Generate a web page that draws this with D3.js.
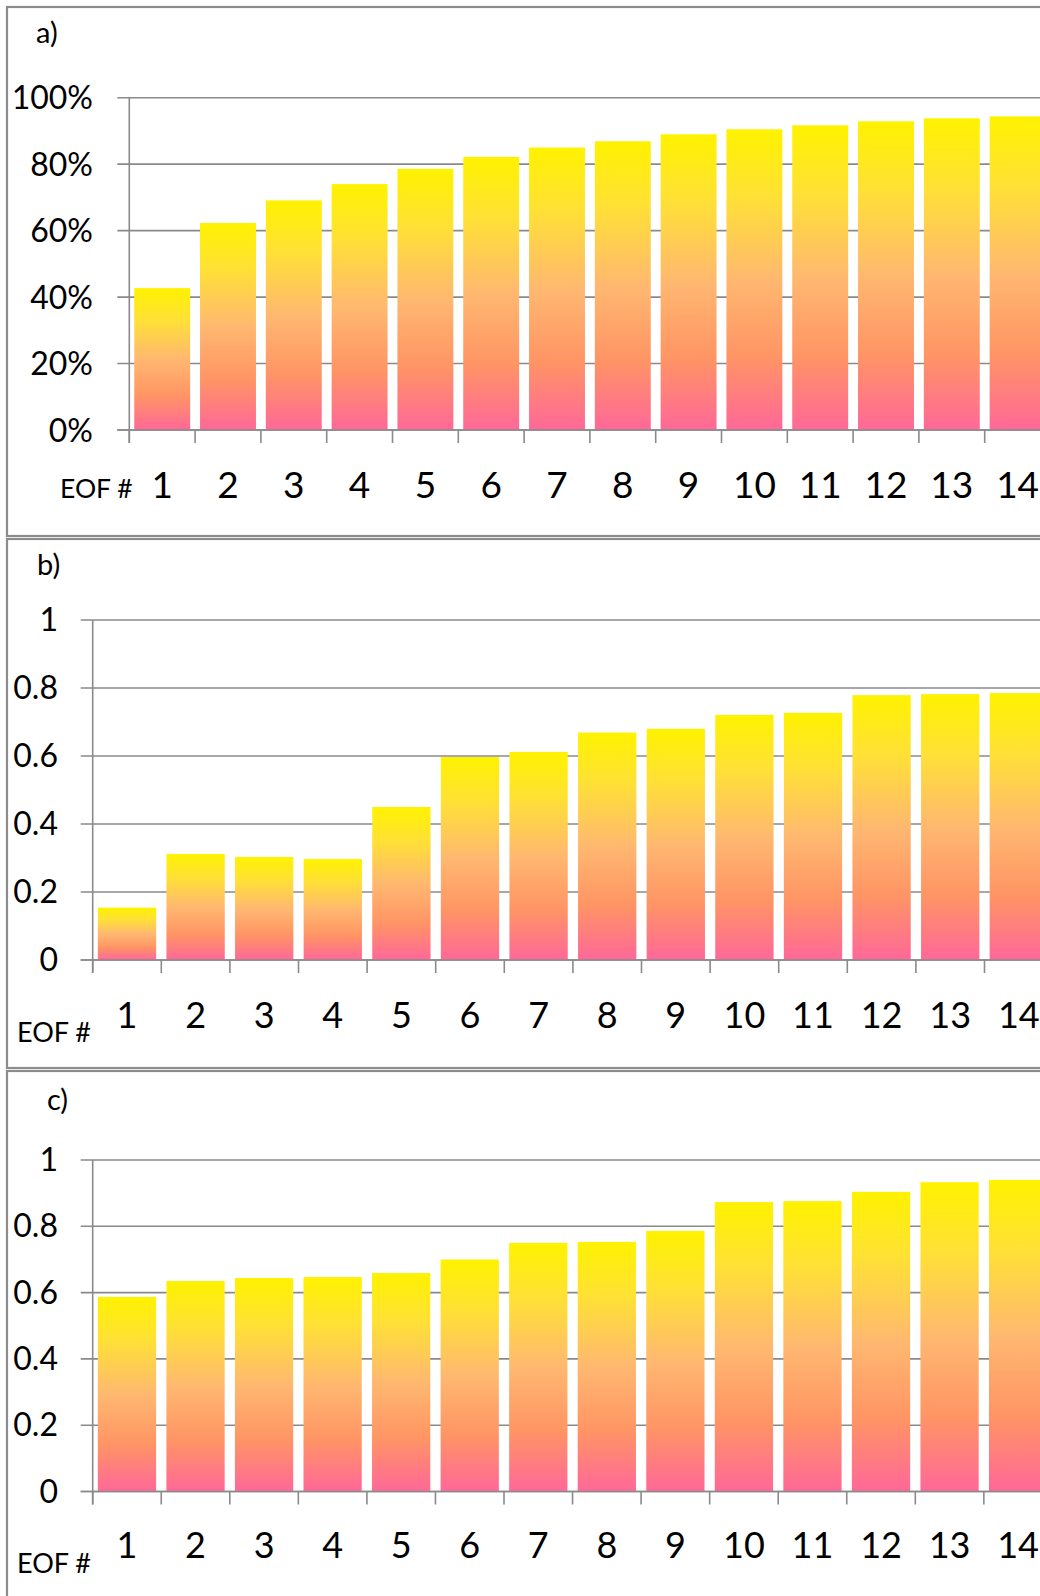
<!DOCTYPE html>
<html>
<head>
<meta charset="utf-8">
<script src="https://cdn.jsdelivr.net/npm/d3@7"></script>
<style>
  html, body { margin: 0; padding: 0; background: #fff; }
  svg { display: block; font-family: Lato, "Open Sans", sans-serif; }
</style>
</head>
<body>
<svg id="chart" width="1040" height="1596"></svg>
<script>
// ---------------- data ----------------
const categories = ["1","2","3","4","5","6","7","8","9","10","11","12","13","14"];
const seriesA = [0.427, 0.623, 0.691, 0.740, 0.786, 0.822, 0.850, 0.869, 0.890, 0.905, 0.917, 0.929, 0.938, 0.944];
const seriesB = [0.154, 0.312, 0.303, 0.297, 0.450, 0.597, 0.612, 0.669, 0.680, 0.721, 0.727, 0.779, 0.782, 0.785];
const seriesC = [0.587, 0.635, 0.644, 0.647, 0.659, 0.700, 0.750, 0.753, 0.786, 0.873, 0.876, 0.904, 0.933, 0.940];
const ticksA = [0, 0.2, 0.4, 0.6, 0.8, 1];
const tickLabelsA = ["0%", "20%", "40%", "60%", "80%", "100%"];
const ticksBC = [0, 0.2, 0.4, 0.6, 0.8, 1];
const tickLabelsBC = ["0", "0.2", "0.4", "0.6", "0.8", "1"];
const panelLetters = ["a)", "b)", "c)"];
const xAxisTitle = "EOF #";

// ---------------- drawing ----------------
const svg = d3.select("#chart");
const defs = svg.append("defs");
const grad = defs.append("linearGradient").attr("id", "barGrad")
  .attr("x1", 0).attr("y1", 0).attr("x2", 0).attr("y2", 1);
[[0, "#FFF200"], [0.22, "#FFE135"], [0.5, "#FFB870"], [0.76, "#FF9465"], [1, "#FF6898"]]
  .forEach(([o, c]) => grad.append("stop").attr("offset", o).attr("stop-color", c));

const gridColor = "#8a8a8a";

const panels = [
  { letter: panelLetters[0], data: seriesA, ticks: ticksA, labels: tickLabelsA,
    box: [7, 7, 529], letterPos: [36, 43], letterSize: 29,
    x0: 129.3, step: 65.8, yTop: 97.7, yBot: 430,
    yLabelRight: 93, yLabelSize: 32, yLabelOff: 11.5,
    xLabelBase: 498, xLabelSize: 37, titlePos: [60, 498], titleSize: 26.5 },
  { letter: panelLetters[1], data: seriesB, ticks: ticksBC, labels: tickLabelsBC,
    box: [7, 539, 529], letterPos: [37, 575], letterSize: 29,
    x0: 92.7, step: 68.6, yTop: 620, yBot: 960,
    yLabelRight: 58, yLabelSize: 32, yLabelOff: 11,
    xLabelBase: 1028, xLabelSize: 36, titlePos: [17, 1042], titleSize: 27 },
  { letter: panelLetters[2], data: seriesC, ticks: ticksBC, labels: tickLabelsBC,
    box: [7, 1071, 600], letterPos: [47, 1110], letterSize: 29,
    x0: 92.7, step: 68.55, yTop: 1160, yBot: 1491.5,
    yLabelRight: 58, yLabelSize: 32, yLabelOff: 11,
    xLabelBase: 1558, xLabelSize: 36, titlePos: [17, 1573], titleSize: 27 }
];

panels.forEach(p => {
  const g = svg.append("g");
  // panel frame
  g.append("rect").attr("x", p.box[0]).attr("y", p.box[1])
    .attr("width", 1200).attr("height", p.box[2])
    .attr("fill", "none").attr("stroke", "#8c8c8c").attr("stroke-width", 2.2);

  const x = d3.scaleBand().domain(categories)
    .range([p.x0, p.x0 + p.step * categories.length])
    .paddingInner(0.15).paddingOuter(0.075);
  const y = d3.scaleLinear().domain([0, 1]).range([p.yBot, p.yTop]);
  const step = x.step();
  const bandStart = d => x(d) - step * x.paddingInner() / 2;

  // gridlines
  g.selectAll("line.grid").data(p.ticks).join("line")
    .attr("x1", p.x0 - 12).attr("x2", 1100)
    .attr("y1", d => y(d)).attr("y2", d => y(d))
    .attr("stroke", gridColor).attr("stroke-width", 1.6);

  // bars
  g.selectAll("rect.bar").data(p.data).join("rect")
    .attr("x", (d, i) => x(categories[i]))
    .attr("width", x.bandwidth())
    .attr("y", d => y(d))
    .attr("height", d => y(0) - y(d))
    .attr("fill", "url(#barGrad)");

  // y axis line
  g.append("line").attr("x1", p.x0).attr("x2", p.x0)
    .attr("y1", y(1)).attr("y2", y(0) + 13)
    .attr("stroke", gridColor).attr("stroke-width", 1.6);
  // x axis baseline
  g.append("line").attr("x1", p.x0 - 12).attr("x2", 1100)
    .attr("y1", y(0)).attr("y2", y(0))
    .attr("stroke", gridColor).attr("stroke-width", 1.6);
  // category separator ticks
  g.selectAll("line.xt").data(categories).join("line")
    .attr("x1", d => bandStart(d)).attr("x2", d => bandStart(d))
    .attr("y1", y(0)).attr("y2", y(0) + 13)
    .attr("stroke", gridColor).attr("stroke-width", 1.6);

  // y tick labels
  g.selectAll("text.yl").data(p.ticks).join("text")
    .attr("x", p.yLabelRight).attr("y", d => y(d) + p.yLabelOff)
    .attr("text-anchor", "end").attr("font-size", p.yLabelSize).attr("fill", "#000")
    .text((d, i) => p.labels[i]);

  // x tick labels
  g.selectAll("text.xl").data(categories).join("text")
    .attr("x", d => x(d) + x.bandwidth() / 2).attr("y", p.xLabelBase)
    .attr("text-anchor", "middle").attr("font-size", p.xLabelSize).attr("fill", "#000")
    .text(d => d);

  // axis title
  g.append("text").attr("x", p.titlePos[0]).attr("y", p.titlePos[1])
    .attr("font-size", p.titleSize).attr("fill", "#000").text(xAxisTitle);

  // panel letter
  g.append("text").attr("x", p.letterPos[0]).attr("y", p.letterPos[1])
    .attr("font-size", p.letterSize).attr("fill", "#000").text(p.letter);
});
</script>
</body>
</html>
